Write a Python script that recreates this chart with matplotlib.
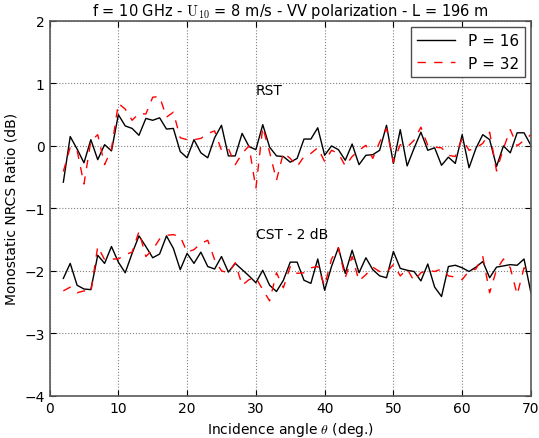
import matplotlib
matplotlib.use("Agg")
import matplotlib.pyplot as plt
import numpy as np

plt.rcParams["mathtext.fontset"] = "cm"
plt.rcParams["font.family"] = "DejaVu Sans"

# incidence angles (deg.)
theta = np.arange(2, 71)

rst_p16 = [-0.58, 0.15, -0.05, -0.27, 0.10, -0.22, 0.02, -0.08, 0.50, 0.32,
           0.28, 0.17, 0.44, 0.41, 0.45, 0.27, 0.28, -0.09, -0.19, 0.10,
           -0.11, -0.19, 0.13, 0.33, -0.16, -0.16, 0.20, -0.01, -0.06, 0.34,
           -0.02, -0.16, -0.17, -0.26, -0.20, 0.11, 0.11, 0.29, -0.15, 0.00,
           -0.06, -0.23, 0.03, -0.30, -0.15, -0.14, -0.07, 0.33, -0.28, 0.26,
           -0.32, -0.04, 0.22, -0.07, -0.03, -0.31, -0.18, -0.28, 0.18, -0.35,
           -0.04, 0.18, 0.10, -0.33, 0.00, -0.11, 0.21, 0.21, 0.01]

rst_p32 = [-0.41, -0.02, -0.07, -0.61, 0.08, 0.18, -0.30, -0.05, 0.68, 0.59,
           0.41, 0.52, 0.51, 0.78, 0.79, 0.46, 0.54, 0.13, 0.10, 0.10,
           0.12, 0.20, 0.24, -0.07, -0.04, -0.30, -0.12, 0.00, -0.68, 0.30,
           -0.10, -0.55, -0.11, -0.20, -0.33, -0.17, -0.12, -0.03, -0.25, -0.07,
           -0.12, -0.32, -0.17, -0.07, 0.01, -0.20, 0.06, 0.28, -0.26, 0.02,
           -0.02, 0.09, 0.30, 0.01, -0.02, -0.03, -0.15, -0.17, 0.12, -0.07,
           -0.03, 0.04, 0.22, -0.40, -0.04, 0.26, 0.00, 0.09, 0.18]

cst_p16 = [-2.12, -1.88, -2.23, -2.29, -2.30, -1.75, -1.88, -1.61, -1.86, -2.03,
           -1.72, -1.44, -1.61, -1.79, -1.73, -1.44, -1.64, -1.98, -1.72, -1.88,
           -1.70, -1.93, -1.97, -1.77, -2.02, -1.88, -1.98, -2.08, -2.19, -1.99,
           -2.23, -2.33, -2.15, -1.86, -1.86, -2.15, -2.20, -1.81, -2.31, -1.93,
           -1.63, -2.04, -1.67, -2.03, -1.79, -1.98, -2.08, -2.11, -1.69, -1.96,
           -1.99, -2.01, -2.16, -1.89, -2.26, -2.41, -1.93, -1.91, -1.95, -2.01,
           -1.94, -1.85, -2.11, -1.94, -1.92, -1.90, -1.91, -1.81, -2.35]

cst_p32 = [-2.32, -2.26, -2.35, -2.32, -2.34, -1.61, -1.82, -1.81, -1.81, -1.74,
           -1.70, -1.37, -1.77, -1.66, -1.49, -1.43, -1.42, -1.45, -1.70, -1.66,
           -1.56, -1.51, -1.82, -2.00, -2.03, -1.87, -2.23, -2.14, -2.11, -2.30,
           -2.48, -2.03, -2.27, -1.93, -2.04, -2.03, -1.95, -1.93, -2.24, -1.81,
           -1.63, -2.11, -1.77, -2.16, -2.06, -1.94, -2.01, -2.02, -1.90, -2.08,
           -1.97, -2.16, -2.03, -1.99, -2.01, -1.97, -2.08, -2.10, -2.14, -2.00,
           -1.97, -1.77, -2.35, -1.98, -1.81, -1.95, -2.38, -1.95, -2.06]

fig = plt.figure(figsize=(5.39, 4.39), dpi=100)
ax = fig.add_axes([0.092, 0.096, 0.893, 0.854])

dash = dict(color="red", linestyle="--", dashes=(6, 6), linewidth=1.0)
ax.plot(theta, rst_p16, color="black", linewidth=1.0, label="P = 16")
ax.plot(theta, rst_p32, label="P = 32", **dash)
ax.plot(theta, cst_p16, color="black", linewidth=1.0)
ax.plot(theta, cst_p32, **dash)

ax.text(30, 0.9, "RST", fontsize=10, va="center")
ax.text(30, -1.41, "CST - 2 dB", fontsize=10, va="center")

ax.set_xlim(0, 70)
ax.set_ylim(-4, 2)
ax.set_xticks(range(0, 71, 10))
ax.set_yticks(range(-4, 3))
ax.grid(True, linestyle=":", color="0.5", linewidth=0.8)
ax.tick_params(direction="in", top=True, right=True, labelsize=10, length=4)
for s in ax.spines.values():
    s.set_color("0.35")
    s.set_linewidth(1.2)

ax.set_xlabel(r"Incidence angle $\theta$ (deg.)", fontsize=10)
ax.set_ylabel("Monostatic NRCS Ratio (dB)", fontsize=10)
ax.set_title(r"f = 10 GHz - $\mathrm{U}_{10}$ = 8 m/s - VV polarization - L = 196 m",
             fontsize=10.5, pad=4)

leg = ax.legend(loc="upper right", fontsize=11, fancybox=False, framealpha=1,
                edgecolor="0.3", handlelength=2.5, borderaxespad=0.4)
leg.get_frame().set_linewidth(1.0)

fig.savefig("out.png", dpi=100)
